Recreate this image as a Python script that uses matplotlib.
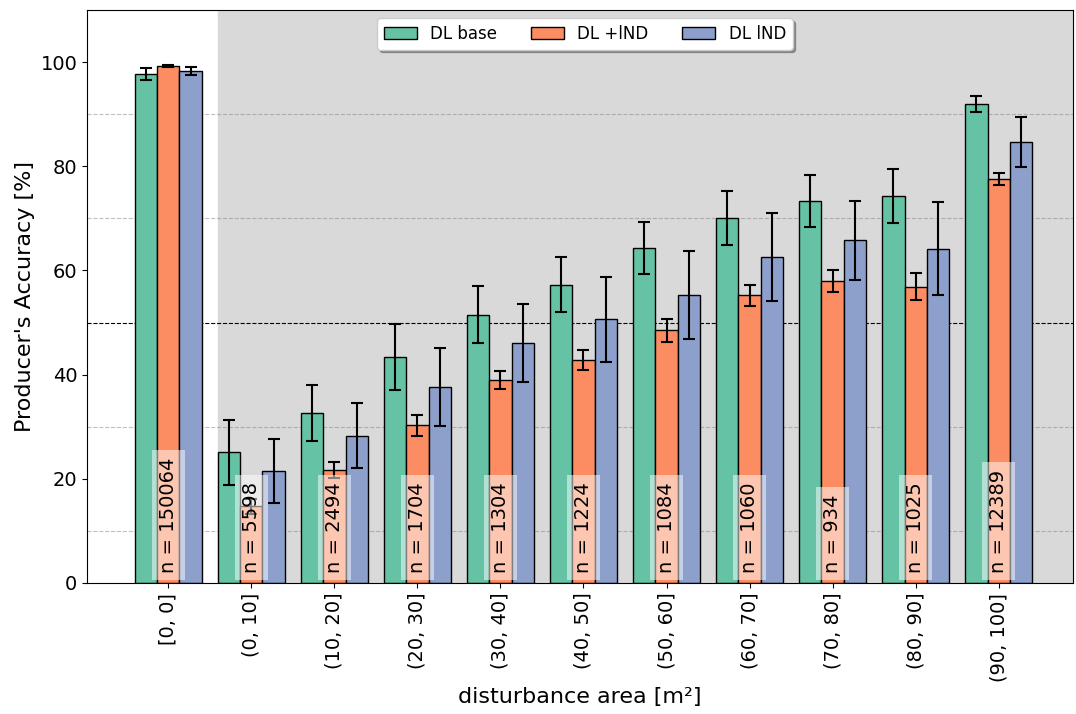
import numpy as np
import matplotlib
matplotlib.use("Agg")
import matplotlib.pyplot as plt

# bins of disturbance area
categories = ["[0, 0]", "(0, 10]", "(10, 20]", "(20, 30]", "(30, 40]", "(40, 50]",
              "(50, 60]", "(60, 70]", "(70, 80]", "(80, 90]", "(90, 100]"]
counts = [150064, 5598, 2494, 1704, 1304, 1224, 1084, 1060, 934, 1025, 12389]

series_names = ["DL base", "DL +lND", "DL lND"]

base = [97.7, 25.1, 32.6, 43.4, 51.5, 57.3, 64.3, 70.1, 73.3, 74.3, 92.0]
base_err = [1.2, 6.2, 5.4, 6.3, 5.5, 5.3, 5.0, 5.15, 5.0, 5.1, 1.55]

plus_ind = [99.2, 14.7, 21.7, 30.25, 39.0, 42.8, 48.5, 55.25, 57.95, 56.9, 77.6]
plus_ind_err = [0.2, 1.5, 1.6, 1.95, 1.7, 1.85, 2.2, 2.05, 2.15, 2.6, 1.2]

ind = [98.3, 21.5, 28.3, 37.7, 46.0, 50.6, 55.25, 62.6, 65.8, 64.2, 84.6]
ind_err = [0.8, 6.2, 6.3, 7.5, 7.5, 8.1, 8.5, 8.4, 7.6, 8.95, 4.8]

colors = ["#66c2a5", "#fc8d62", "#8da0cb"]

fig, ax = plt.subplots(figsize=(10.76, 7.14), dpi=100)
fig.subplots_adjust(left=0.081, right=0.997, top=0.986, bottom=0.1835)

x = np.arange(len(categories))
width = 0.27

# shaded region for non-zero disturbance
ax.axvspan(0.6, 11.5, color="#d9d9d9", zorder=0)

for y in [10, 30, 70, 90]:
    ax.axhline(y, color="gray", linestyle="--", linewidth=0.8, alpha=0.5, zorder=0.5)
ax.axhline(50, color="black", linestyle="--", linewidth=0.8, zorder=0.5)

values = [base, plus_ind, ind]
errors = [base_err, plus_ind_err, ind_err]
for k, (vals, errs) in enumerate(zip(values, errors)):
    ax.bar(x + (k - 1) * width, vals, width, yerr=errs, color=colors[k],
           edgecolor="black", linewidth=1, label=series_names[k], zorder=2,
           error_kw=dict(ecolor="black", elinewidth=1.5, capsize=4, capthick=1.5))

for i, n in enumerate(counts):
    ax.text(x[i], 2, f"n = {n}", rotation=90, ha="center", va="bottom",
            fontsize=14, zorder=4,
            bbox=dict(facecolor="white", alpha=0.5, edgecolor="none", pad=5))

ax.set_xticks(x)
ax.set_xticklabels(categories, rotation=90, fontsize=14)
ax.set_yticks(np.arange(0, 101, 20))
ax.tick_params(axis="y", labelsize=14)
ax.set_xlim(-0.975, 10.89)
ax.set_ylim(0, 110)

ax.set_ylabel("Producer's Accuracy [%]", fontsize=16)
ax.set_xlabel("disturbance area [m²]", fontsize=16)

ax.legend(loc="upper center", bbox_to_anchor=(0.505, 1.0), ncol=3, fontsize=12,
          shadow=True, framealpha=1, columnspacing=2.0)

plt.savefig("out.png", dpi=100)
plt.close()
